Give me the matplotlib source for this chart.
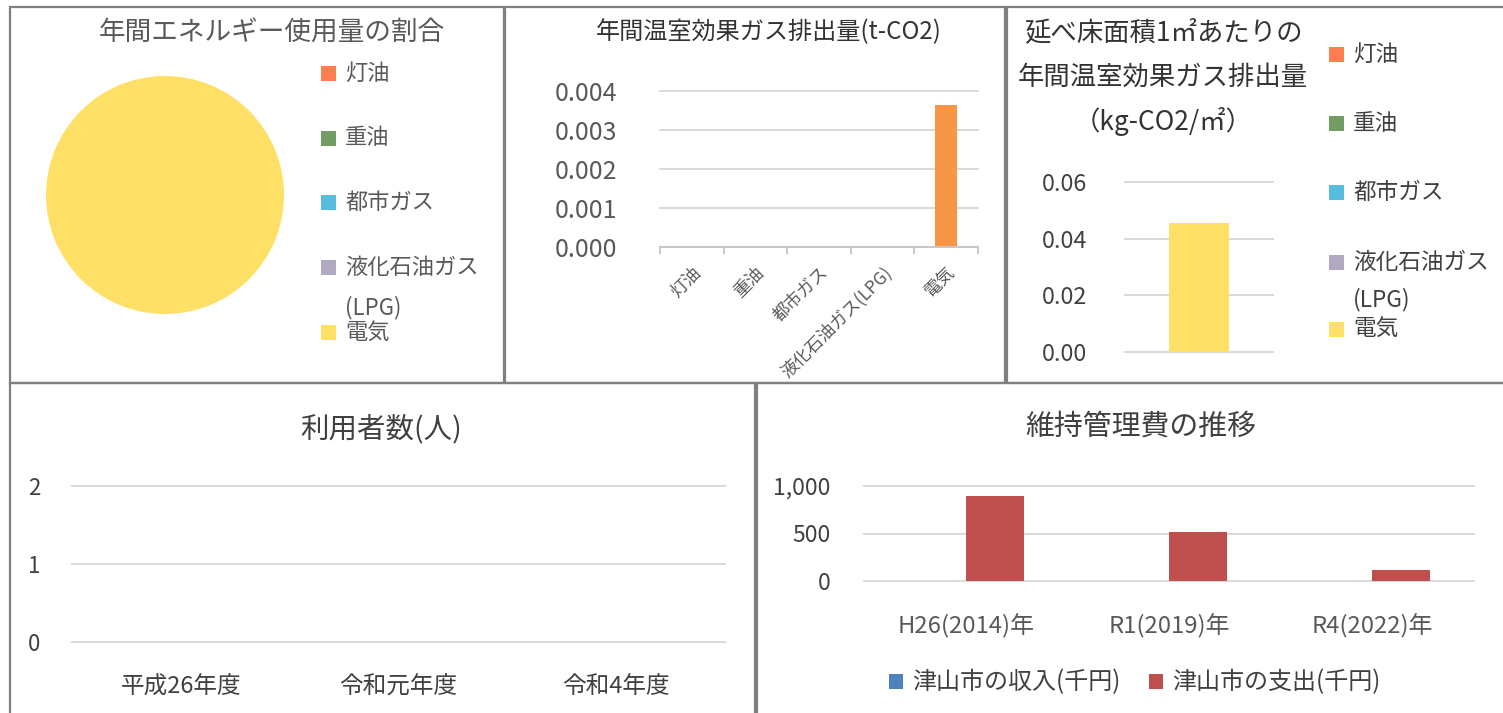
import numpy as np
import matplotlib
matplotlib.use('Agg')
import matplotlib.pyplot as plt
from matplotlib.patches import Rectangle
from matplotlib.ticker import FuncFormatter

plt.rcParams['font.family'] = ['Noto Sans CJK JP', 'DejaVu Sans']

W, H = 1503, 713

# data
FUELS = ['灯油', '重油', '都市ガス', '液化石油ガス\n(LPG)', '電気']
FUEL_TICKS = ['灯油', '重油', '都市ガス', '液化石油ガス(LPG)', '電気']
FUEL_COLORS = ['#FF7F50', '#739E63', '#56BCE0', '#B1A9C1', '#FFE066']
energy_share = [0, 0, 0, 0, 100]
ghg_total = [0, 0, 0, 0, 0.00365]        # t-CO2
ghg_per_area = [0, 0, 0, 0, 0.0455]      # kg-CO2/m2

user_years = ['平成26年度', '令和元年度', '令和4年度']
users = [0, 0, 0]

cost_years = ['H26(2014)年', 'R1(2019)年', 'R4(2022)年']
cost_series = ['津山市の収入(千円)', '津山市の支出(千円)']
city_income = [0, 0, 0]
city_expense = [900, 520, 120]

GRID = '#D9D9D9'
TICK = '#595959'


def px_axes(x0, y0, x1, y1):
    return fig.add_axes([x0 / W, 1 - y1 / H, (x1 - x0) / W, (y1 - y0) / H])


def px_text(x, y, s, **kw):
    return fig.text(x / W, 1 - y / H, s, **kw)


def px_box(x0, y0, x1, y1, **kw):
    fig.patches.append(Rectangle((x0 / W, 1 - y1 / H), (x1 - x0) / W, (y1 - y0) / H,
                                 transform=fig.transFigure, **kw))


def draw_key(x_box, x_text, ys, labels, colors, fs, color, gap=40):
    for label, c, y in zip(labels, colors, ys):
        px_box(x_box, y - 7, x_box + 15, y + 8, facecolor=c, edgecolor='none')
        for i, line in enumerate(label.split('\n')):
            px_text(x_text, y + i * gap, line, va='center', ha='left',
                    fontsize=fs, color=color)


def clean_axes(ax):
    for s in ax.spines.values():
        s.set_visible(False)
    ax.set_axisbelow(True)
    ax.yaxis.grid(True, color=GRID, linewidth=1.4)
    for line in ax.get_ygridlines():
        line.set_clip_on(False)
    ax.tick_params(length=0)


fig = plt.figure(figsize=(W / 100, H / 100), dpi=100)

# panel frames
for box in [(10, 7, 504, 383), (505, 7, 1005, 383), (1007, 7, 1512, 383),
            (10, 383, 755, 720), (757, 383, 1512, 720)]:
    px_box(*box, facecolor='none', edgecolor='#7F7F7F', linewidth=1.6)

# 1. energy share pie
ax1 = px_axes(165 - 119, 195 - 119, 165 + 119, 195 + 119)
ax1.pie(energy_share, colors=FUEL_COLORS, startangle=90, counterclock=False,
        wedgeprops=dict(linewidth=0))
ax1.set_xlim(-1, 1)
ax1.set_ylim(-1, 1)
ax1.set_aspect('equal')
px_text(272, 33, '年間エネルギー使用量の割合', ha='center', va='center',
        fontsize=19.2, color='#595959')
draw_key(321, 345, [73, 138, 202, 267, 332], FUELS, FUEL_COLORS, 16, '#595959', gap=41)

# 2. annual GHG bar
ax2 = px_axes(660, 91, 978, 247)
ax2.bar(range(len(FUEL_TICKS)), ghg_total, width=0.35, color='#F79646')
ax2.set_xlim(-0.5, 4.5)
ax2.set_ylim(0, 0.004)
ax2.set_yticks(np.arange(0, 0.0041, 0.001))
ax2.yaxis.set_major_formatter(FuncFormatter(lambda v, p: f'{v:.3f}'))
clean_axes(ax2)
ax2.spines['bottom'].set_visible(True)
ax2.spines['bottom'].set_color('#C8C8C8')
ax2.spines['bottom'].set_linewidth(1.4)
ax2.set_xticks(range(len(FUEL_TICKS)))
ax2.set_xticklabels(FUEL_TICKS, rotation=45, ha='right', va='top',
                    rotation_mode='anchor', fontsize=12.5, color=TICK)
ax2.set_xticks(np.arange(-0.5, 5, 1), minor=True)
ax2.tick_params(axis='x', which='minor', length=5, width=1.4, color='#C8C8C8')
ax2.tick_params(axis='x', which='major', pad=12)
ax2.tick_params(axis='y', pad=31, labelsize=18, labelcolor=TICK)
px_text(769, 32, '年間温室効果ガス排出量(t-CO2)', ha='center', va='center',
        fontsize=17.4, color='#333333')

# 3. GHG per floor area, stacked
ax3 = px_axes(1125, 182, 1273, 352)
bottom = 0
for val, c in zip(ghg_per_area, FUEL_COLORS):
    ax3.bar([0], [val], bottom=bottom, width=0.4, color=c, linewidth=0)
    bottom += val
ax3.set_xlim(-0.5, 0.5)
ax3.set_ylim(0, 0.06)
ax3.set_yticks([0, 0.02, 0.04, 0.06])
ax3.yaxis.set_major_formatter(FuncFormatter(lambda v, p: f'{v:.2f}'))
clean_axes(ax3)
ax3.set_xticks([])
ax3.tick_params(axis='y', pad=27, labelsize=16.8, labelcolor='#404040')
for y, line in zip([33, 77, 122], ['延べ床面積1㎡あたりの', '年間温室効果ガス排出量', '（kg-CO2/㎡）']):
    px_text(1163, y, line, ha='center', va='center', fontsize=19, color='#333333')
draw_key(1329, 1353, [54, 123, 192, 262, 329], FUELS, FUEL_COLORS, 16.3, '#404040', gap=38)

# 4. users
ax4 = px_axes(72, 486, 725, 642)
ax4.bar(range(len(user_years)), users, width=0.4, color='#4F81BD', linewidth=0)
ax4.set_xlim(-0.5, 2.5)
ax4.set_ylim(0, 2)
ax4.set_yticks([0, 1, 2])
clean_axes(ax4)
ax4.set_xticks(range(len(user_years)))
ax4.set_xticklabels(user_years, fontsize=17, color='#404040')
ax4.tick_params(axis='x', pad=24)
ax4.tick_params(axis='y', pad=23, labelsize=16, labelcolor='#404040')
px_text(381, 429, '利用者数(人)', ha='center', va='center', fontsize=20.5, color='#404040')

# 5. maintenance cost
ax5 = px_axes(864, 486, 1474, 581)
x = np.arange(len(cost_years))
w = 0.285
ax5.bar(x - w / 2, city_income, width=w, color='#4F81BD', linewidth=0)
ax5.bar(x + w / 2, city_expense, width=w, color='#C0504D', linewidth=0)
ax5.set_xlim(-0.5, 2.5)
ax5.set_ylim(0, 1000)
ax5.set_yticks([0, 500, 1000])
ax5.yaxis.set_major_formatter(FuncFormatter(lambda v, p: f'{v:,.0f}'))
clean_axes(ax5)
ax5.set_xticks(x)
ax5.set_xticklabels(cost_years, fontsize=17.2, color=TICK)
ax5.tick_params(axis='x', pad=24)
ax5.tick_params(axis='y', pad=24, labelsize=16.5, labelcolor='#404040')
px_text(1141, 427, '維持管理費の推移', ha='center', va='center', fontsize=20.8, color='#404040')
for xb, xt, label, c in zip([889, 1149], [912, 1172], cost_series, ['#4F81BD', '#C0504D']):
    px_box(xb, 674, xb + 14, 689, facecolor=c, edgecolor='none')
    px_text(xt, 682, label, va='center', ha='left', fontsize=17.3, color='#404040')

fig.savefig('out.png', dpi=100)
